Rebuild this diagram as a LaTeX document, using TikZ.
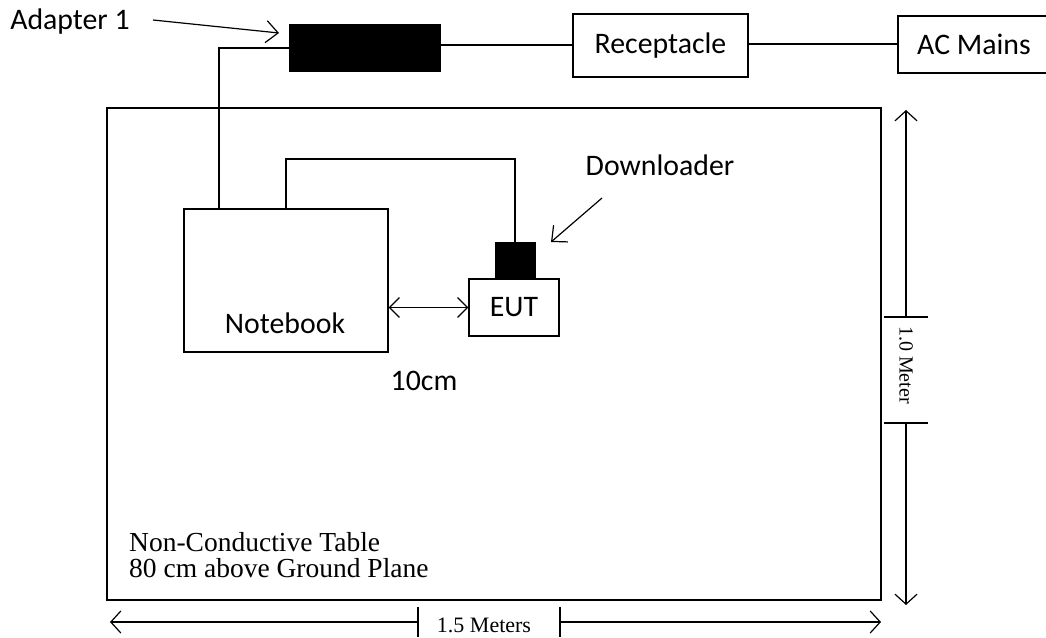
\documentclass[tikz,border=0pt]{standalone}
\usepackage{fontspec}
\setmainfont{Liberation Serif}
\newfontfamily\calib{Carlito}
\usetikzlibrary{arrows.meta}
\tikzset{
  wire/.style={line width=1.2pt},
  box/.style={draw, line width=1.2pt, inner sep=0pt, font=\calib\fontsize{29.8}{34}\selectfont},
  blk/.style={draw, fill=black, line width=1.2pt, inner sep=0pt},
  lbl/.style={font=\calib\fontsize{29.8}{34}\selectfont, inner sep=0pt},
  serif/.style={font=\fontsize{27.5}{28}\selectfont, inner sep=0pt},
  dimtxt/.style={font=\fontsize{20}{22}\selectfont, inner sep=0pt},
  pointer/.style={line width=1.2pt, -{Straight Barb[length=12pt, width=22pt, line width=1.2pt]}},
  dimarr/.style={line width=1.2pt, -{Straight Barb[length=10pt, width=22pt, line width=1.2pt]}},
  dblarr/.style={line width=1.2pt, {Straight Barb[length=10pt, width=20pt, line width=1.2pt]}-{Straight Barb[length=10pt, width=20pt, line width=1.2pt]}}
}
\begin{document}
\begin{tikzpicture}[x=1pt,y=-1pt]
\useasboundingbox (0,0) rectangle (1046,637);
% top chain
\node[blk, minimum width=150pt, minimum height=46pt] (adp) at (365,48) {};
\node[box, minimum width=175pt, minimum height=63pt] (rec) at (660.5,45.5) {Receptacle};
\node[box, minimum width=152pt, minimum height=57pt] (ac) at (974,44.5) {AC Mains};
\draw[wire] (adp.east |- 0,45) -- (rec.west |- 0,45);
\draw[wire] (rec.east |- 0,44) -- (ac.west |- 0,44);
\node[lbl] (adlbl) at (70,22) {Adapter 1};
\coordinate (adfrom) at (153,20);
\coordinate (adto) at (279,33);
\draw[pointer] (adfrom) -- (adto);
% table
\node[draw, line width=2.5pt, minimum width=774pt, minimum height=492pt, inner sep=0pt] (table) at (494,354) {};
\node[serif, anchor=base west] (tbl1) at (129,551) {Non-Conductive Table};
\node[serif, anchor=base west] (tbl2) at (129,577) {80 cm above Ground Plane};
% notebook
\node[box, minimum width=204pt, minimum height=143pt] (nb) at (286,280.5) {};
\node[lbl] (nbtxt) at (285,323) {Notebook};
% EUT and downloader
\node[box, minimum width=90pt, minimum height=57pt] (eut) at (514,307.5) {EUT};
\node[blk, minimum width=39pt, minimum height=36pt] (dl) at (515.5,261) {};
% wires
\draw[wire] (adp.west) -- (219,48) -- (219,209);
\draw[wire] (286,209) -- (286,159) -- (515,159) -- (dl.north -| 515,0);
\draw[dblarr] (nb.east |- eut.west) -- (eut.west);
\node[lbl] (tencm) at (424,381) {10cm};
\node[lbl] (dllbl) at (660,165) {Downloader};
\coordinate (dlfrom) at (602,198);
\coordinate (dlto) at (551,242);
\draw[pointer] (dlfrom) -- (dlto);
% vertical dimension
\coordinate (vt1) at (906,317);
\coordinate (vt2) at (906,423);
\coordinate (vtop) at (906,110);
\coordinate (vbot) at (906,605);
\draw[dimarr] (vt1) -- (vtop);
\draw[dimarr] (vt2) -- (vbot);
\draw[wire] (884,317) -- (928,317);
\draw[wire] (884,423) -- (928,423);
\node[dimtxt, rotate=-90] (vlbl) at (906,365) {1.0 Meter};
% horizontal dimension
\coordinate (ht1) at (418,622);
\coordinate (ht2) at (560,622);
\coordinate (hl) at (110,622);
\coordinate (hr) at (881,622);
\draw[dimarr] (ht1) -- (hl);
\draw[dimarr] (ht2) -- (hr);
\draw[wire] (418,607) -- (418,637);
\draw[wire] (560,607) -- (560,637);
\node[dimtxt, font=\fontsize{22}{24}\selectfont] (hlbl) at (484,625) {1.5 Meters};
\end{tikzpicture}
\end{document}
